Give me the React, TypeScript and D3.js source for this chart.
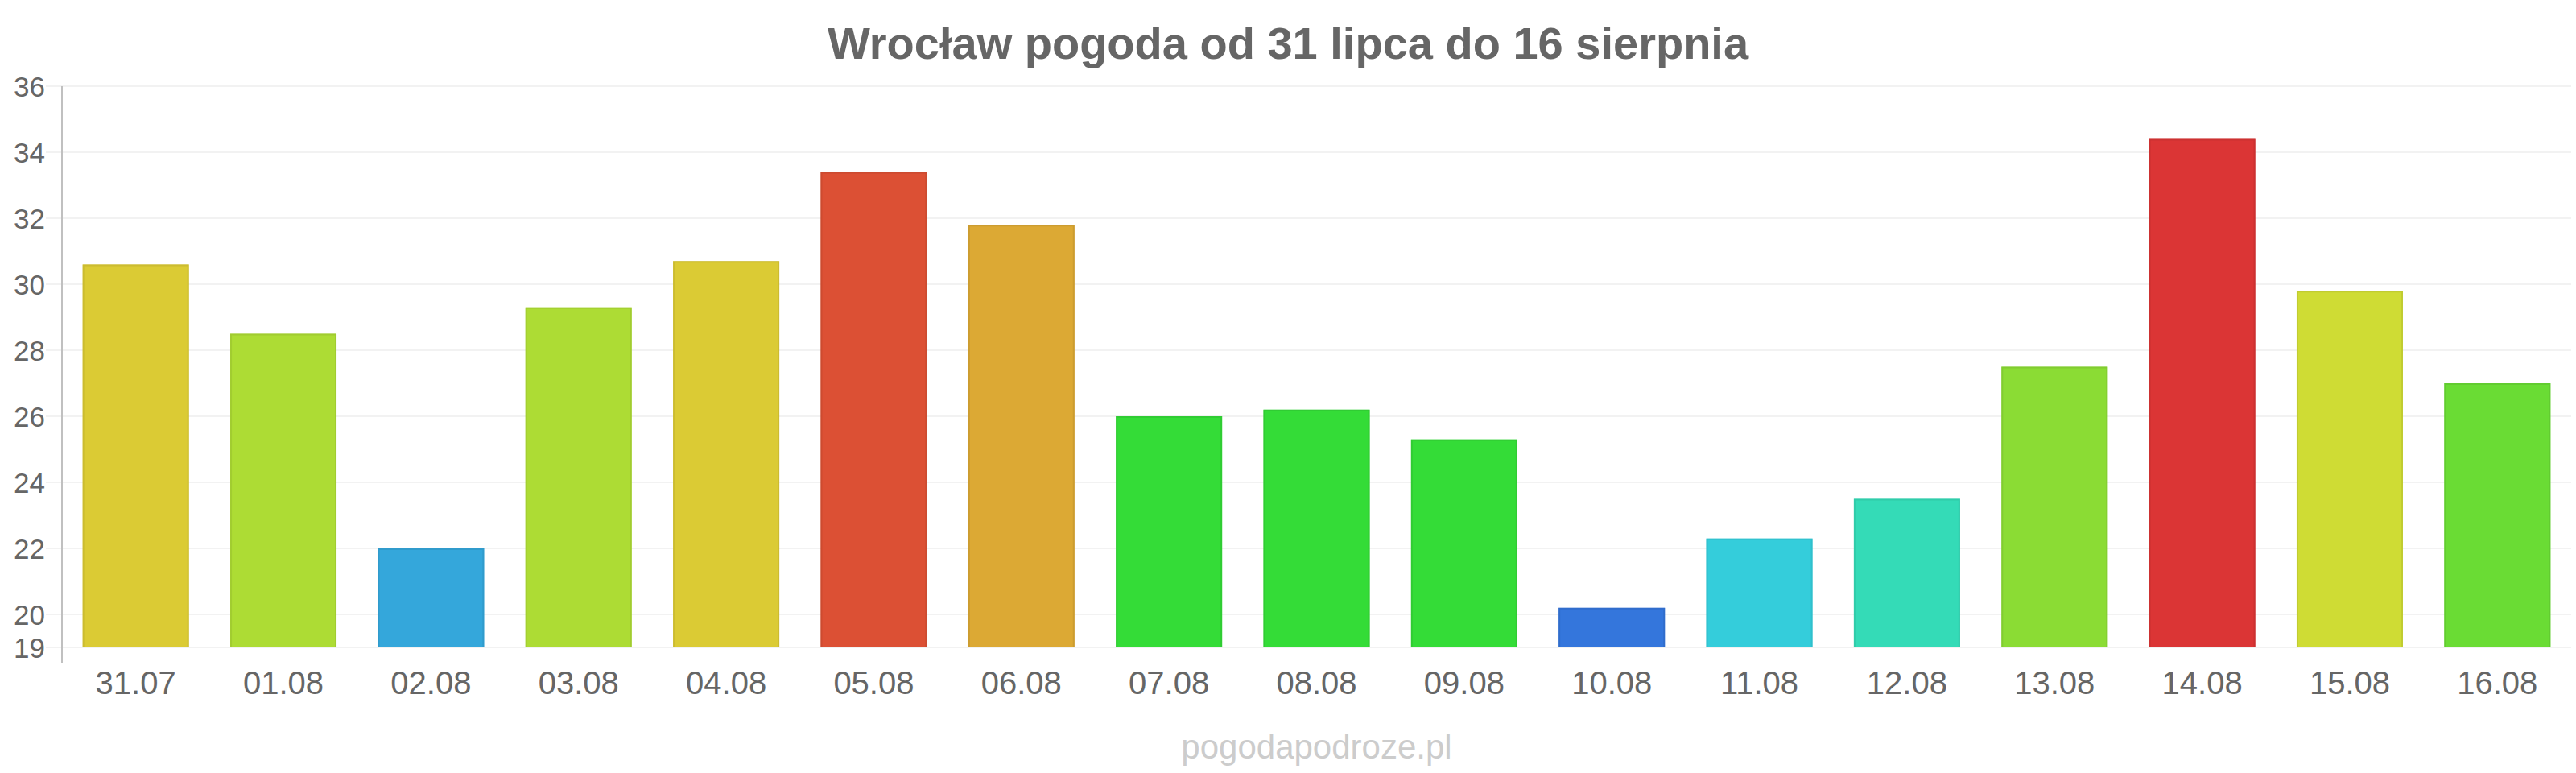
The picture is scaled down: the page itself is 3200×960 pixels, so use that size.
import React from "react";
import { scaleBand, scaleLinear, color } from "d3";

const dates = [
  "31.07", "01.08", "02.08", "03.08", "04.08", "05.08", "06.08", "07.08", "08.08",
  "09.08", "10.08", "11.08", "12.08", "13.08", "14.08", "15.08", "16.08",
];
const temps = [30.6, 28.5, 22.0, 29.3, 30.7, 33.4, 31.8, 26.0, 26.2, 25.3, 20.2, 22.3, 23.5, 27.5, 34.4, 29.8, 27.0];
const barColors = [
  "#dbcb34", "#addc34", "#34a7db", "#addc34", "#dbcb34", "#dc5034", "#dca934", "#34dc37", "#34dc37",
  "#34dc37", "#3476dc", "#34cddb", "#34dbb7", "#8bdc34", "#db3535", "#cfdc34", "#6adc34",
];
const yTicks = [19, 20, 22, 24, 26, 28, 30, 32, 34, 36];

const title = "Wrocław pogoda od 31 lipca do 16 sierpnia";
const watermark = "pogodapodroze.pl";

const W = 3200;
const H = 960;
const FONT = "'Liberation Sans', Arial, sans-serif";

const App: React.FC = () => {
  const x = scaleBand<string>()
    .domain(dates)
    .range([77, 3194])
    .paddingInner(0.28)
    .paddingOuter(0.14);
  const y = scaleLinear().domain([19, 36]).range([804, 107]);

  const left = 77;
  const right = 3194;

  return (
    <svg
      width={W}
      height={H}
      style={{ position: "absolute", left: 0, top: 0, background: "#fff" }}
      fontFamily={FONT}
    >
      {/* grid */}
      {yTicks.map((t) => (
        <line
          key={"g" + t}
          x1={57}
          x2={right}
          y1={y(t)}
          y2={y(t)}
          stroke="#f2f2f2"
          strokeWidth={2}
        />
      ))}

      {/* bars */}
      {dates.map((d, i) => {
        const x0 = x(d)!;
        const bw = x.bandwidth();
        const top = y(temps[i]);
        const base = y(19);
        const stroke = color(barColors[i])!.darker(0.35).formatHex();
        return (
          <g key={d}>
            <rect x={x0} y={top} width={bw} height={base - top} fill={barColors[i]} />
            <path
              d={`M${x0 + 1},${base} V${top + 1} H${x0 + bw - 1} V${base}`}
              fill="none"
              stroke={stroke}
              strokeWidth={2}
              strokeOpacity={0.6}
            />
          </g>
        );
      })}

      {/* y axis line */}
      <line x1={left} x2={left} y1={107} y2={823} stroke="#c0c0c0" strokeWidth={2} />

      {/* y tick labels */}
      {yTicks.map((t) => (
        <text
          key={"t" + t}
          x={56}
          y={y(t)}
          textAnchor="end"
          dominantBaseline="central"
          fontSize={35}
          fill="#666"
        >
          {t}
        </text>
      ))}

      {/* x labels */}
      {dates.map((d) => (
        <text
          key={"x" + d}
          x={x(d)! + x.bandwidth() / 2}
          y={862}
          textAnchor="middle"
          fontSize={40}
          fill="#666"
        >
          {d}
        </text>
      ))}

      <text x={1600} y={73} textAnchor="middle" fontSize={56} fontWeight="bold" fill="#666">
        {title}
      </text>

      <text x={(left + right) / 2} y={942} textAnchor="middle" fontSize={42} fill="#ccc">
        {watermark}
      </text>
    </svg>
  );
};

export default App;
